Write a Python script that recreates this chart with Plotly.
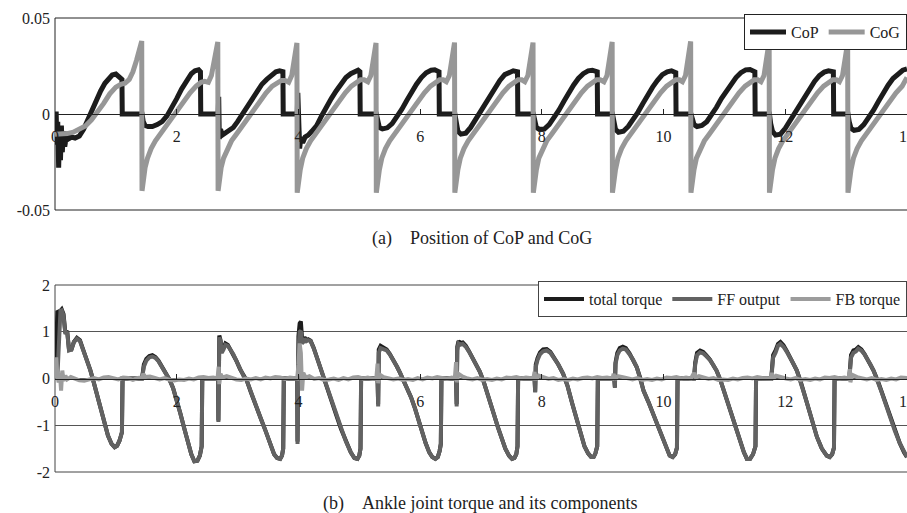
import plotly.graph_objects as go

# ---------------- (a) Position of CoP and CoG ----------------
COP_T = [
    0, 0.02, 0.03, 0.045, 0.06, 0.075, 0.09, 0.105, 0.12, 0.14, 0.16, 0.19, 0.22, 0.27, 0.33, 0.40, 0.47, 0.54, 0.61, 0.68, 0.75, 0.82, 0.88, 0.94, 1.00, 1.06, 1.10, 1.105, 1.43,
    1.43, 1.45, 1.48, 1.53, 1.60, 1.68, 1.76, 1.84, 1.92, 2.00, 2.08, 2.16, 2.24, 2.30, 2.36, 2.39, 2.395, 2.68,
    2.68, 2.69, 2.70, 2.72, 2.75, 2.80, 2.86, 2.93, 3.00, 3.08, 3.16, 3.24, 3.32, 3.40, 3.48, 3.56, 3.63, 3.69, 3.745, 3.75, 3.98,
    3.98, 3.99, 4.00, 4.01, 4.02, 4.04, 4.07, 4.11, 4.16, 4.22, 4.30, 4.38, 4.46, 4.54, 4.62, 4.70, 4.78, 4.86, 4.93, 4.98, 5.01, 5.015, 5.28,
    5.28, 5.30, 5.33, 5.38, 5.46, 5.54, 5.62, 5.70, 5.78, 5.86, 5.94, 6.02, 6.10, 6.18, 6.24, 6.31, 6.315, 6.57,
    6.57, 6.59, 6.62, 6.67, 6.75, 6.83, 6.91, 6.99, 7.07, 7.15, 7.23, 7.31, 7.39, 7.47, 7.53, 7.60, 7.605, 7.86,
    7.86, 7.88, 7.91, 7.96, 8.04, 8.12, 8.20, 8.28, 8.36, 8.44, 8.52, 8.60, 8.68, 8.76, 8.83, 8.91, 8.915, 9.16,
    9.16, 9.18, 9.21, 9.26, 9.34, 9.42, 9.50, 9.58, 9.66, 9.74, 9.82, 9.90, 9.98, 10.06, 10.13, 10.20, 10.205, 10.45,
    10.45, 10.47, 10.50, 10.55, 10.63, 10.71, 10.79, 10.87, 10.95, 11.03, 11.11, 11.19, 11.27, 11.35, 11.42, 11.50, 11.505, 11.74,
    11.74, 11.76, 11.79, 11.84, 11.92, 12.00, 12.08, 12.16, 12.24, 12.32, 12.40, 12.48, 12.56, 12.64, 12.71, 12.79, 12.795, 13.03,
    13.03, 13.05, 13.08, 13.13, 13.21, 13.29, 13.37, 13.45, 13.53, 13.61, 13.69, 13.77, 13.85, 13.93, 14.0,
]
COP_Y = [
    0.0, 0.0, -0.016, -0.004, -0.028, -0.010, -0.024, -0.006, -0.020, -0.009, -0.017, -0.011, -0.013, -0.012, -0.0125, -0.0115, -0.008, -0.003, 0.003, 0.0075, 0.012, 0.016, 0.0185, 0.0203, 0.0208, 0.0195, 0.018, 0.0, 0.0,
    0.0, -0.004, -0.006, -0.0065, -0.0065, -0.0055, -0.004, -0.001, 0.003, 0.008, 0.013, 0.017, 0.021, 0.0225, 0.023, 0.022, 0.0, 0.0,
    0.0, 0.009, -0.013, -0.008, -0.011, -0.010, -0.009, -0.007, -0.004, 0.000, 0.004, 0.008, 0.012, 0.0155, 0.018, 0.0205, 0.022, 0.0225, 0.022, 0.0, 0.0,
    0.0, 0.011, -0.016, -0.004, -0.018, -0.012, -0.015, -0.012, -0.011, -0.009, -0.006, -0.001, 0.004, 0.008, 0.012, 0.016, 0.019, 0.021, 0.0225, 0.0228, 0.022, 0.0, 0.0,
    0.0, -0.004, -0.007, -0.0078, -0.0072, -0.005, -0.0015, 0.0025, 0.007, 0.0115, 0.0155, 0.019, 0.0215, 0.0228, 0.023, 0.022, 0.0, 0.0,
    0.0, -0.005, -0.009, -0.0105, -0.010, -0.007, -0.003, 0.001, 0.0055, 0.010, 0.014, 0.0175, 0.0205, 0.022, 0.0225, 0.022, 0.0, 0.0,
    0.0, -0.004, -0.007, -0.008, -0.0078, -0.0055, -0.002, 0.002, 0.0065, 0.011, 0.015, 0.0185, 0.021, 0.0225, 0.0228, 0.022, 0.0, 0.0,
    0.0, -0.004, -0.008, -0.0095, -0.009, -0.0065, -0.003, 0.001, 0.0055, 0.010, 0.014, 0.0175, 0.0205, 0.022, 0.0225, 0.0215, 0.0, 0.0,
    0.0, -0.003, -0.0055, -0.0065, -0.006, -0.004, -0.0005, 0.0035, 0.008, 0.012, 0.016, 0.019, 0.0215, 0.023, 0.0232, 0.022, 0.0, 0.0,
    0.0, -0.005, -0.009, -0.011, -0.0105, -0.0075, -0.0035, 0.0005, 0.005, 0.0095, 0.0135, 0.017, 0.020, 0.0218, 0.0225, 0.022, 0.0, 0.0,
    0.0, -0.004, -0.0075, -0.0085, -0.008, -0.0055, -0.002, 0.002, 0.0065, 0.011, 0.015, 0.0185, 0.021, 0.0228, 0.0235,
]

COG_T = [
    0, 0.10, 0.20, 0.30, 0.40, 0.50, 0.60, 0.70, 0.80, 0.90, 1.00, 1.08, 1.15, 1.22, 1.28, 1.34, 1.39, 1.425,
    1.43, 1.45, 1.48, 1.52, 1.58, 1.65, 1.73, 1.82, 1.92, 2.02, 2.12, 2.22, 2.32, 2.40, 2.46, 2.52, 2.57, 2.62, 2.675,
    2.68, 2.70, 2.73, 2.77, 2.83, 2.90, 2.98, 3.07, 3.17, 3.27, 3.37, 3.47, 3.57, 3.65, 3.72, 3.78, 3.84, 3.89, 3.93, 3.975,
    3.98, 4.00, 4.03, 4.07, 4.13, 4.20, 4.28, 4.37, 4.47, 4.57, 4.67, 4.77, 4.87, 4.95, 5.02, 5.08, 5.14, 5.19, 5.23, 5.275,
    5.28, 5.30, 5.33, 5.37, 5.43, 5.50, 5.58, 5.67, 5.77, 5.87, 5.97, 6.07, 6.17, 6.25, 6.32, 6.38, 6.43, 6.48, 6.52, 6.565,
    6.57, 6.59, 6.62, 6.66, 6.72, 6.79, 6.87, 6.96, 7.06, 7.16, 7.26, 7.36, 7.46, 7.54, 7.61, 7.67, 7.72, 7.77, 7.81, 7.855,
    7.86, 7.88, 7.91, 7.95, 8.01, 8.08, 8.16, 8.25, 8.35, 8.45, 8.55, 8.65, 8.75, 8.83, 8.90, 8.96, 9.02, 9.07, 9.11, 9.155,
    9.16, 9.18, 9.21, 9.25, 9.31, 9.38, 9.46, 9.55, 9.65, 9.75, 9.85, 9.95, 10.05, 10.13, 10.20, 10.26, 10.31, 10.36, 10.40, 10.445,
    10.45, 10.47, 10.50, 10.54, 10.60, 10.67, 10.75, 10.84, 10.94, 11.04, 11.14, 11.24, 11.34, 11.42, 11.49, 11.55, 11.60, 11.65, 11.69, 11.735,
    11.74, 11.76, 11.79, 11.83, 11.89, 11.96, 12.04, 12.13, 12.23, 12.33, 12.43, 12.53, 12.63, 12.71, 12.78, 12.84, 12.89, 12.94, 12.98, 13.025,
    13.03, 13.05, 13.08, 13.12, 13.18, 13.25, 13.33, 13.42, 13.52, 13.62, 13.72, 13.82, 13.92, 14.0,
]
COG_Y = [
    -0.0105, -0.0105, -0.0102, -0.0095, -0.0082, -0.0062, -0.0030, 0.0010, 0.0055, 0.0105, 0.0140, 0.0155, 0.0160, 0.0180, 0.0220, 0.0280, 0.0340, 0.0380,
    -0.040, -0.034, -0.028, -0.023, -0.018, -0.014, -0.0105, -0.0065, -0.0020, 0.0025, 0.0070, 0.0110, 0.0145, 0.0165, 0.0170, 0.0165, 0.0200, 0.0280, 0.0375,
    -0.040, -0.034, -0.028, -0.023, -0.018, -0.014, -0.0105, -0.0065, -0.0020, 0.0025, 0.0070, 0.0110, 0.0145, 0.0165, 0.0175, 0.0175, 0.0165, 0.0200, 0.0270, 0.0370,
    -0.041, -0.035, -0.029, -0.023, -0.018, -0.014, -0.0105, -0.0065, -0.0020, 0.0025, 0.0070, 0.0110, 0.0145, 0.0165, 0.0178, 0.0178, 0.0168, 0.0200, 0.0270, 0.0370,
    -0.041, -0.035, -0.029, -0.023, -0.018, -0.014, -0.0105, -0.0065, -0.0020, 0.0025, 0.0070, 0.0110, 0.0145, 0.0165, 0.0178, 0.0178, 0.0168, 0.0200, 0.0270, 0.0372,
    -0.041, -0.035, -0.029, -0.023, -0.018, -0.014, -0.0105, -0.0065, -0.0020, 0.0025, 0.0070, 0.0110, 0.0145, 0.0165, 0.0178, 0.0178, 0.0168, 0.0200, 0.0270, 0.0372,
    -0.041, -0.035, -0.029, -0.023, -0.018, -0.014, -0.0105, -0.0065, -0.0020, 0.0025, 0.0070, 0.0110, 0.0145, 0.0165, 0.0178, 0.0178, 0.0168, 0.0200, 0.0272, 0.0375,
    -0.041, -0.035, -0.029, -0.023, -0.018, -0.014, -0.0105, -0.0065, -0.0020, 0.0025, 0.0070, 0.0110, 0.0145, 0.0165, 0.0178, 0.0178, 0.0168, 0.0200, 0.0272, 0.0378,
    -0.041, -0.035, -0.029, -0.023, -0.018, -0.014, -0.0105, -0.0065, -0.0020, 0.0025, 0.0070, 0.0110, 0.0145, 0.0165, 0.0178, 0.0178, 0.0168, 0.0200, 0.0272, 0.0378,
    -0.041, -0.035, -0.029, -0.023, -0.018, -0.014, -0.0105, -0.0065, -0.0020, 0.0025, 0.0070, 0.0110, 0.0145, 0.0165, 0.0178, 0.0178, 0.0168, 0.0200, 0.0270, 0.0372,
    -0.041, -0.035, -0.029, -0.023, -0.018, -0.014, -0.0105, -0.0065, -0.0020, 0.0025, 0.0070, 0.0110, 0.0145, 0.0190,
]

# ---------------- (b) Ankle joint torque and its components ----------------
TORQUE_T = [
    0, 0.04, 0.07, 0.09, 0.11, 0.14, 0.17, 0.20, 0.23, 0.27, 0.31, 0.36, 0.41, 0.46, 0.52, 0.58, 0.63, 0.69, 0.75, 0.81, 0.87, 0.93, 0.98, 1.02, 1.06, 1.10, 1.11, 1.43,
    1.43, 1.46, 1.50, 1.55, 1.60, 1.65, 1.70, 1.76, 1.82, 1.88, 1.94, 2.00, 2.06, 2.12, 2.18, 2.24, 2.29, 2.34, 2.38, 2.41, 2.42, 2.68,
    2.68, 2.685, 2.69, 2.70, 2.72, 2.74, 2.77, 2.80, 2.84, 2.88, 2.93, 2.98, 3.04, 3.10, 3.15, 3.22, 3.30, 3.38, 3.46, 3.54, 3.60, 3.65, 3.70, 3.73, 3.75, 3.76, 3.98,
    3.98, 3.985, 3.99, 4.00, 4.02, 4.04, 4.06, 4.08, 4.10, 4.13, 4.16, 4.20, 4.25, 4.30, 4.36, 4.42, 4.48, 4.55, 4.62, 4.70, 4.78, 4.86, 4.92, 4.97, 5.00, 5.02, 5.03, 5.28,
    5.28, 5.30, 5.31, 5.32, 5.35, 5.40, 5.45, 5.50, 5.56, 5.62, 5.67, 5.73, 5.79, 5.85, 5.91, 5.97, 6.03, 6.09, 6.15, 6.20, 6.25, 6.29, 6.32, 6.34, 6.35, 6.57,
    6.57, 6.59, 6.60, 6.61, 6.63, 6.66, 6.70, 6.75, 6.80, 6.86, 6.92, 6.98, 7.04, 7.10, 7.16, 7.22, 7.28, 7.34, 7.40, 7.46, 7.51, 7.55, 7.58, 7.60, 7.61, 7.86,
    7.86, 7.88, 7.89, 7.90, 7.93, 7.97, 8.02, 8.08, 8.14, 8.20, 8.27, 8.35, 8.42, 8.50, 8.57, 8.64, 8.70, 8.76, 8.81, 8.85, 8.88, 8.91, 8.92, 9.16,
    9.16, 9.19, 9.20, 9.21, 9.24, 9.28, 9.33, 9.38, 9.44, 9.50, 9.56, 9.62, 9.67, 9.75, 9.83, 9.91, 9.99, 10.05, 10.10, 10.15, 10.19, 10.22, 10.23, 10.45,
    10.45, 10.50, 10.52, 10.55, 10.60, 10.65, 10.70, 10.76, 10.82, 10.87, 10.93, 11.00, 11.09, 11.17, 11.26, 11.32, 11.37, 11.42, 11.47, 11.51, 11.52, 11.74,
    11.74, 11.77, 11.78, 11.80, 11.84, 11.88, 11.92, 11.97, 12.02, 12.08, 12.14, 12.19, 12.25, 12.30, 12.36, 12.44, 12.52, 12.60, 12.68, 12.73, 12.77, 12.80, 12.81, 13.03,
    13.03, 13.05, 13.06, 13.08, 13.12, 13.16, 13.20, 13.25, 13.30, 13.35, 13.40, 13.45, 13.52, 13.58, 13.65, 13.72, 13.80, 13.88, 13.95, 14.00,
]
TOTAL_TORQUE = [
    0.00, 1.45, 1.42, 1.47, 1.48, 1.38, 0.98, 1.02, 0.62, 0.62, 0.78, 0.87, 0.82, 0.63, 0.42, 0.18, -0.05, -0.35, -0.68, -0.98, -1.22, -1.40, -1.47, -1.44, -1.33, -1.15, 0.00, 0.00,
    0.00, 0.30, 0.42, 0.48, 0.50, 0.46, 0.38, 0.25, 0.10, -0.02, -0.20, -0.45, -0.75, -1.05, -1.35, -1.62, -1.77, -1.76, -1.65, -1.45, 0.00, 0.00,
    0.00, -0.90, 0.00, 0.92, 0.82, 0.58, 0.66, 0.75, 0.72, 0.63, 0.52, 0.38, 0.20, 0.05, -0.04, -0.30, -0.55, -0.85, -1.12, -1.40, -1.62, -1.70, -1.72, -1.65, -1.50, 0.00, 0.00,
    0.00, -1.35, -0.10, 0.90, 1.18, 1.22, 0.85, 0.82, 0.88, 0.82, 0.84, 0.81, 0.66, 0.46, 0.20, -0.04, -0.25, -0.50, -0.78, -1.08, -1.35, -1.58, -1.70, -1.72, -1.65, -1.50, 0.00, 0.00,
    0.00, 0.00, -0.55, 0.62, 0.70, 0.67, 0.62, 0.53, 0.40, 0.25, 0.12, -0.05, -0.22, -0.40, -0.62, -0.88, -1.12, -1.38, -1.58, -1.68, -1.72, -1.68, -1.55, -1.40, 0.00, 0.00,
    0.00, 0.00, -0.55, 0.68, 0.80, 0.76, 0.77, 0.70, 0.59, 0.45, 0.30, 0.15, -0.05, -0.28, -0.52, -0.80, -1.05, -1.30, -1.50, -1.65, -1.72, -1.70, -1.62, -1.45, 0.00, 0.00,
    0.00, 0.00, -0.28, 0.30, 0.44, 0.56, 0.62, 0.63, 0.57, 0.46, 0.30, 0.10, -0.15, -0.54, -0.88, -1.20, -1.45, -1.60, -1.68, -1.68, -1.60, -1.45, 0.00, 0.00,
    0.00, 0.00, -0.18, 0.34, 0.55, 0.65, 0.68, 0.65, 0.54, 0.41, 0.24, 0.00, -0.26, -0.50, -0.76, -1.05, -1.33, -1.52, -1.65, -1.68, -1.62, -1.48, 0.00, 0.00,
    0.00, 0.00, 0.34, 0.55, 0.60, 0.57, 0.50, 0.41, 0.28, 0.17, -0.02, -0.30, -0.69, -1.00, -1.33, -1.58, -1.72, -1.72, -1.62, -1.45, 0.00, 0.00,
    0.00, 0.00, 0.18, 0.50, 0.60, 0.74, 0.78, 0.71, 0.60, 0.46, 0.30, 0.17, -0.05, -0.28, -0.54, -0.90, -1.25, -1.50, -1.65, -1.68, -1.62, -1.48, 0.00, 0.00,
    0.00, 0.00, 0.14, 0.50, 0.60, 0.62, 0.67, 0.62, 0.53, 0.42, 0.30, 0.17, -0.05, -0.28, -0.55, -0.83, -1.12, -1.38, -1.58, -1.68,
]
FF_OUTPUT = [
    0.00, 0.05, 0.90, 1.45, 1.46, 1.35, 0.95, 1.00, 0.60, 0.62, 0.78, 0.85, 0.80, 0.62, 0.42, 0.18, -0.05, -0.35, -0.68, -0.98, -1.22, -1.40, -1.47, -1.44, -1.33, -1.15, 0.00, 0.00,
    0.00, 0.25, 0.38, 0.45, 0.47, 0.44, 0.37, 0.25, 0.10, -0.02, -0.20, -0.45, -0.75, -1.05, -1.35, -1.62, -1.77, -1.76, -1.65, -1.45, 0.00, 0.00,
    0.00, -0.93, 0.00, 0.88, 0.80, 0.55, 0.62, 0.72, 0.70, 0.62, 0.52, 0.38, 0.20, 0.05, -0.04, -0.30, -0.55, -0.85, -1.12, -1.40, -1.62, -1.70, -1.72, -1.65, -1.50, 0.00, 0.00,
    0.00, -1.40, -0.30, 0.60, 1.00, 1.02, 0.75, 0.78, 0.85, 0.80, 0.82, 0.80, 0.65, 0.46, 0.20, -0.04, -0.25, -0.50, -0.78, -1.08, -1.35, -1.58, -1.70, -1.72, -1.65, -1.50, 0.00, 0.00,
    0.00, 0.00, -0.60, 0.55, 0.65, 0.62, 0.60, 0.52, 0.40, 0.25, 0.12, -0.05, -0.22, -0.40, -0.62, -0.88, -1.12, -1.38, -1.58, -1.68, -1.72, -1.68, -1.55, -1.40, 0.00, 0.00,
    0.00, 0.00, -0.60, 0.60, 0.75, 0.72, 0.74, 0.68, 0.58, 0.45, 0.30, 0.15, -0.05, -0.28, -0.52, -0.80, -1.05, -1.30, -1.50, -1.65, -1.72, -1.70, -1.62, -1.45, 0.00, 0.00,
    0.00, 0.00, -0.30, 0.25, 0.40, 0.52, 0.58, 0.60, 0.55, 0.45, 0.30, 0.10, -0.15, -0.54, -0.88, -1.20, -1.45, -1.60, -1.68, -1.68, -1.60, -1.45, 0.00, 0.00,
    0.00, 0.00, -0.20, 0.30, 0.50, 0.60, 0.64, 0.62, 0.52, 0.40, 0.24, 0.00, -0.26, -0.50, -0.76, -1.05, -1.33, -1.52, -1.65, -1.68, -1.62, -1.48, 0.00, 0.00,
    0.00, 0.00, 0.30, 0.50, 0.56, 0.54, 0.48, 0.40, 0.28, 0.17, -0.02, -0.30, -0.69, -1.00, -1.33, -1.58, -1.72, -1.72, -1.62, -1.45, 0.00, 0.00,
    0.00, 0.00, 0.15, 0.45, 0.55, 0.70, 0.74, 0.68, 0.58, 0.45, 0.30, 0.17, -0.05, -0.28, -0.54, -0.90, -1.25, -1.50, -1.65, -1.68, -1.62, -1.48, 0.00, 0.00,
    0.00, 0.00, 0.10, 0.45, 0.55, 0.58, 0.64, 0.60, 0.52, 0.42, 0.30, 0.17, -0.05, -0.28, -0.55, -0.83, -1.12, -1.38, -1.58, -1.68,
]

FB_T = [
    0, 0.02, 0.04, 0.06, 0.08, 0.10, 0.12, 0.14, 0.17, 0.20, 0.26, 0.33, 0.40, 0.48, 0.56, 0.64, 0.72, 0.80, 0.88, 0.96, 1.04, 1.12, 1.20, 1.28, 1.36,
    1.43, 1.45, 1.48, 1.56, 1.64, 1.72, 1.80, 1.88, 1.96, 2.04, 2.12, 2.20, 2.28, 2.36, 2.44, 2.52, 2.60,
    2.67, 2.69, 2.70, 2.72, 2.75, 2.82, 2.90, 2.98, 3.06, 3.14, 3.22, 3.30, 3.38, 3.46, 3.54, 3.62, 3.70, 3.78, 3.86, 3.94,
    3.98, 4.00, 4.02, 4.04, 4.06, 4.08, 4.12, 4.18, 4.26, 4.34, 4.42, 4.50, 4.58, 4.66, 4.74, 4.82, 4.90, 4.98, 5.06, 5.14, 5.22,
    5.28, 5.30, 5.31, 5.34, 5.40, 5.48, 5.56, 5.64, 5.72, 5.80, 5.88, 5.96, 6.04, 6.12, 6.20, 6.28, 6.36, 6.44, 6.52,
    6.57, 6.59, 6.60, 6.63, 6.70, 6.78, 6.86, 6.94, 7.02, 7.10, 7.18, 7.26, 7.34, 7.42, 7.50, 7.58, 7.66, 7.74, 7.82,
    7.86, 7.88, 7.90, 7.95, 8.03, 8.11, 8.19, 8.27, 8.35, 8.43, 8.51, 8.59, 8.67, 8.75, 8.83, 8.91, 8.99, 9.07,
    9.16, 9.18, 9.20, 9.25, 9.33, 9.41, 9.49, 9.57, 9.65, 9.73, 9.81, 9.89, 9.97, 10.05, 10.13, 10.21, 10.29, 10.37,
    10.45, 10.50, 10.53, 10.58, 10.66, 10.74, 10.82, 10.90, 10.98, 11.06, 11.14, 11.22, 11.30, 11.38, 11.46, 11.54, 11.62, 11.70,
    11.76, 11.78, 11.80, 11.85, 11.93, 12.01, 12.09, 12.17, 12.25, 12.33, 12.41, 12.49, 12.57, 12.65, 12.73, 12.81, 12.89, 12.97,
    13.04, 13.06, 13.07, 13.10, 13.18, 13.26, 13.34, 13.42, 13.50, 13.58, 13.66, 13.74, 13.82, 13.90, 14.0,
]
FB_TORQUE = [
    0.00, 0.45, 0.05, -0.08, 0.12, -0.26, 0.17, -0.05, 0.06, -0.02, 0.03, -0.01, -0.04, -0.05, -0.02, 0.01, -0.02, 0.02, 0.03, 0.00, -0.02, 0.02, 0.01, -0.03, 0.01,
    0.02, 0.10, 0.03, 0.04, 0.01, -0.02, 0.01, -0.03, -0.04, -0.02, -0.03, 0.00, -0.02, 0.02, 0.03, 0.01, 0.02,
    0.00, 0.25, -0.12, 0.10, 0.02, 0.05, 0.01, -0.02, -0.03, 0.00, -0.02, 0.01, -0.02, 0.02, 0.00, 0.03, 0.02, -0.01, 0.02, 0.00,
    0.00, 0.30, 0.75, 0.55, -0.26, 0.12, 0.02, 0.05, -0.01, 0.01, -0.03, -0.02, 0.00, -0.03, 0.01, -0.02, 0.02, 0.03, 0.00, 0.02, -0.01,
    0.00, 0.32, -0.10, 0.08, 0.03, 0.01, -0.02, 0.00, -0.03, -0.01, -0.03, 0.01, -0.02, 0.02, 0.00, 0.03, 0.01, -0.01, 0.02,
    0.00, 0.35, -0.08, 0.10, 0.04, 0.00, -0.02, 0.01, -0.03, -0.01, -0.03, 0.00, -0.02, 0.02, 0.01, 0.03, 0.00, 0.02, 0.01,
    0.00, 0.14, -0.03, 0.06, 0.02, -0.01, 0.01, -0.03, -0.01, -0.03, 0.00, -0.02, 0.01, 0.02, 0.00, 0.03, 0.01, 0.02,
    0.00, 0.10, -0.02, 0.05, 0.03, 0.00, -0.02, 0.01, -0.03, -0.01, -0.03, 0.00, -0.02, 0.02, 0.01, 0.03, 0.00, 0.02,
    0.00, 0.12, 0.02, 0.05, 0.02, -0.01, 0.01, -0.03, -0.02, -0.03, 0.00, -0.02, 0.01, 0.02, 0.00, 0.03, 0.01, 0.00,
    0.00, 0.12, 0.00, 0.06, 0.02, 0.00, -0.02, 0.01, -0.03, -0.01, -0.03, 0.00, -0.02, 0.02, 0.01, 0.03, 0.00, 0.02,
    0.00, 0.20, -0.08, 0.08, 0.03, 0.00, -0.02, 0.01, -0.03, -0.01, -0.03, 0.00, -0.02, 0.02, 0.01,
]

X_TICKS = [0, 2, 4, 6, 8, 10, 12, 14]
Y_TICKS_A = [-0.05, 0, 0.05]
Y_TICKLABELS_A = ["-0.05", "0", "0.05"]
Y_TICKS_B = [-2, -1, 0, 1, 2]
Y_TICKLABELS_B = ["-2", "-1", "0", "1", "2"]
CAPTION_A = "(a)\u00a0\u00a0\u00a0\u00a0Position of CoP and CoG"
CAPTION_B = "(b)\u00a0\u00a0\u00a0\u00a0Ankle joint torque and its components"

FONT = "Liberation Serif"
INK = "#222222"

# page geometry (px)
W, H = 907, 513
ML, MR, MT, MB = 55, 0, 18, 41
PH = H - MT - MB
A_DOM = [(H - MB - 210) / PH, 1.0]
B_DOM = [0.0, (H - MB - 285) / PH]

fig = go.Figure()
fig.add_trace(go.Scatter(x=COP_T, y=COP_Y, name="CoP", mode="lines",
                         line=dict(color="#1c1c1c", width=5), xaxis="x", yaxis="y", legend="legend"))
fig.add_trace(go.Scatter(x=COG_T, y=COG_Y, name="CoG", mode="lines",
                         line=dict(color="#979797", width=5), xaxis="x", yaxis="y", legend="legend"))
fig.add_trace(go.Scatter(x=TORQUE_T, y=TOTAL_TORQUE, name="total torque", mode="lines",
                         line=dict(color="#1c1c1c", width=4), xaxis="x2", yaxis="y2", legend="legend2"))
fig.add_trace(go.Scatter(x=TORQUE_T, y=FF_OUTPUT, name="FF output", mode="lines",
                         line=dict(color="#626262", width=4), xaxis="x2", yaxis="y2", legend="legend2"))
fig.add_trace(go.Scatter(x=FB_T, y=FB_TORQUE, name="FB torque", mode="lines",
                         line=dict(color="#9c9c9c", width=4), xaxis="x2", yaxis="y2", legend="legend2"))

xcommon = dict(range=[0, 14], tickvals=X_TICKS, showgrid=False, zeroline=False,
               showline=True, linecolor=INK, linewidth=1, ticks="inside", ticklen=5,
               tickcolor=INK, tickfont=dict(family=FONT, size=16, color=INK),
               ticklabeloverflow="allow", ticklabelstandoff=8, anchor="free",
               automargin=False)

fig.update_layout(
    width=W, height=H,
    margin=dict(l=ML, r=MR, t=MT, b=MB, autoexpand=False),
    paper_bgcolor="white", plot_bgcolor="white",
    font=dict(family=FONT, color=INK),
    xaxis=dict(domain=[0, 1], position=(A_DOM[0] + A_DOM[1]) / 2, **xcommon),
    yaxis=dict(domain=A_DOM, range=[-0.05, 0.05], tickvals=Y_TICKS_A, ticktext=Y_TICKLABELS_A,
               showgrid=False, zeroline=False, showline=False, ticks="", automargin=False,
               tickfont=dict(family=FONT, size=16, color=INK), ticklabelstandoff=4),
    xaxis2=dict(domain=[0, 1], position=(B_DOM[0] + B_DOM[1]) / 2, **xcommon),
    yaxis2=dict(domain=B_DOM, range=[-2, 2], tickvals=Y_TICKS_B, ticktext=Y_TICKLABELS_B,
                automargin=False,
                showgrid=True, gridcolor="#555555", gridwidth=1, zeroline=False,
                showline=False, ticks="",
                tickfont=dict(family=FONT, size=16, color=INK), ticklabelstandoff=4),
    legend=dict(orientation="h", x=1, xanchor="right", y=1 + 4 / PH, yanchor="top",
                bgcolor="white", bordercolor=INK, borderwidth=1,
                font=dict(family=FONT, size=16, color=INK), itemwidth=36,
                tracegroupgap=0),
    legend2=dict(orientation="h", x=1, xanchor="right", y=B_DOM[1] + 4 / PH, yanchor="top",
                 bgcolor="white", bordercolor="#444444", borderwidth=1,
                 font=dict(family=FONT, size=16, color=INK), itemwidth=40,
                 tracegroupgap=0),
    showlegend=True,
)

# frames around each panel
fig.add_shape(type="rect", xref="x domain", yref="y domain", x0=0, x1=1.02, y0=0, y1=1,
              line=dict(color=INK, width=1), layer="below")
fig.add_shape(type="rect", xref="x2 domain", yref="y2 domain", x0=0, x1=1.02, y0=0, y1=1,
              line=dict(color="#444444", width=1), layer="below")

# captions
fig.add_annotation(text=CAPTION_A, xref="paper", yref="paper", x=(482 - ML) / (W - ML - MR),
                   y=(H - MB - 238) / PH, showarrow=False, xanchor="center", yanchor="middle",
                   font=dict(family=FONT, size=18, color=INK))
fig.add_annotation(text=CAPTION_B, xref="paper", yref="paper", x=(480 - ML) / (W - ML - MR),
                   y=(H - MB - 503) / PH, showarrow=False, xanchor="center", yanchor="middle",
                   font=dict(family=FONT, size=18, color=INK))

fig.write_html("out.html", config={"displayModeBar": False},
               post_script="document.body.style.margin='0px';")
